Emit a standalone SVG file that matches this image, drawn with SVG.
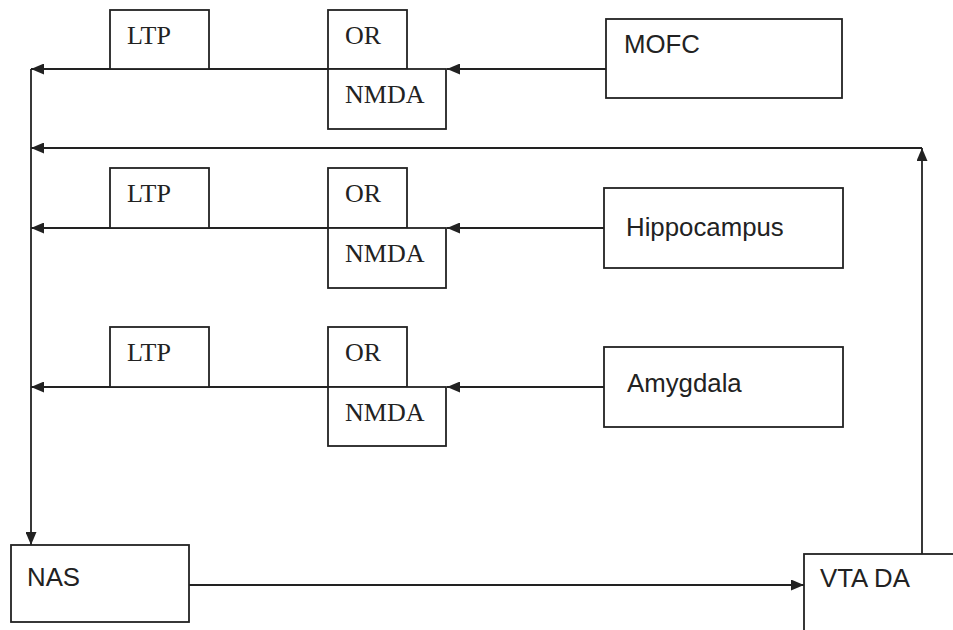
<svg xmlns="http://www.w3.org/2000/svg" width="953" height="630" viewBox="0 0 953 630">
<style>
.box{fill:#fff;stroke:#222;stroke-width:1.8}
.ln{fill:none;stroke:#222;stroke-width:1.8}
.serif{font-family:"Liberation Serif","Times New Roman",serif;font-size:26px;fill:#222}
.sans{font-family:"Liberation Sans",Arial,sans-serif;font-size:25.8px;fill:#222}
</style>
<defs>
<marker id="ah" viewBox="0 0 13 11" refX="13" refY="5.5" markerWidth="13" markerHeight="11" markerUnits="userSpaceOnUse" orient="auto">
<path d="M0,0 L13,5.5 L0,11 Z" fill="#222"/>
</marker>
</defs>
<g id="connectors">
<line class="ln" x1="606" y1="69" x2="447" y2="69" marker-end="url(#ah)"/>
<line class="ln" x1="328" y1="69" x2="31" y2="69" marker-end="url(#ah)"/>
<line class="ln" x1="604" y1="228" x2="447" y2="228" marker-end="url(#ah)"/>
<line class="ln" x1="328" y1="228" x2="31" y2="228" marker-end="url(#ah)"/>
<line class="ln" x1="604" y1="387" x2="447" y2="387" marker-end="url(#ah)"/>
<line class="ln" x1="328" y1="387" x2="31" y2="387" marker-end="url(#ah)"/>
<line class="ln" x1="31" y1="69" x2="31" y2="545" marker-end="url(#ah)"/>
<line class="ln" x1="189" y1="585" x2="804" y2="585" marker-end="url(#ah)"/>
<line class="ln" x1="922" y1="554" x2="922" y2="148" marker-end="url(#ah)"/>
<line class="ln" x1="922" y1="148" x2="31" y2="148" marker-end="url(#ah)"/>
</g>
<g id="ltp1"><rect class="box" x="110" y="10" width="99" height="59"/><text class="serif" x="127" y="44">LTP</text></g>
<g id="or1"><rect class="box" x="328" y="10" width="79" height="59"/><text class="serif" x="345" y="44">OR</text></g>
<g id="nmda1"><rect class="box" x="328" y="69" width="118" height="60"/><text class="serif" x="345" y="103">NMDA</text></g>
<g id="mofc"><rect class="box" x="606" y="19" width="236" height="79"/><text class="sans" x="624" y="53">MOFC</text></g>
<g id="ltp2"><rect class="box" x="110" y="168" width="99" height="60"/><text class="serif" x="127" y="202">LTP</text></g>
<g id="or2"><rect class="box" x="328" y="168" width="79" height="60"/><text class="serif" x="345" y="202">OR</text></g>
<g id="nmda2"><rect class="box" x="328" y="228" width="118" height="60"/><text class="serif" x="345" y="262">NMDA</text></g>
<g id="hippocampus"><rect class="box" x="604" y="188" width="239" height="80"/><text class="sans" x="626" y="236">Hippocampus</text></g>
<g id="ltp3"><rect class="box" x="110" y="327" width="99" height="60"/><text class="serif" x="127" y="361">LTP</text></g>
<g id="or3"><rect class="box" x="328" y="327" width="79" height="60"/><text class="serif" x="345" y="361">OR</text></g>
<g id="nmda3"><rect class="box" x="328" y="387" width="118" height="59"/><text class="serif" x="345" y="421">NMDA</text></g>
<g id="amygdala"><rect class="box" x="604" y="347" width="239" height="80"/><text class="sans" x="627" y="392">Amygdala</text></g>
<g id="nas"><rect class="box" x="11" y="545" width="178" height="77"/><text class="sans" x="27" y="586">NAS</text></g>
<g id="vtada"><rect class="box" x="804" y="554" width="200" height="100"/><text class="sans" x="820" y="587">VTA DA</text></g>
</svg>
